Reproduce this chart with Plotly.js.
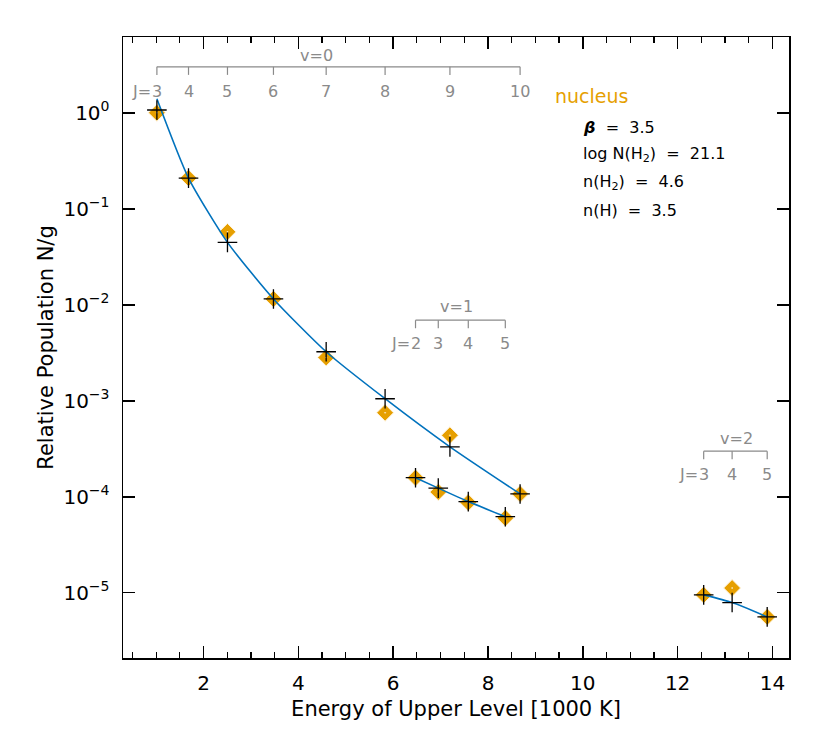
<!DOCTYPE html>
<html>
<head>
<meta charset="utf-8">
<script src="https://cdn.plot.ly/plotly-3.0.1.min.js"></script>
<style>
  body { margin: 0; background: #fff; }
  #plot { width: 830px; height: 738px; }
</style>
</head>
<body>
<div id="plot"></div>
<script>
// level energies [1000 K] and J numbers per vibrational band
var energyV0 = [1.015, 1.682, 2.504, 3.474, 4.586, 5.829, 7.197, 8.677];
var jV0 = [3, 4, 5, 6, 7, 8, 9, 10];
var energyV1 = [6.471, 6.951, 7.584, 8.365];
var jV1 = [2, 3, 4, 5];
var energyV2 = [12.55, 13.15, 13.89];
var jV2 = [3, 4, 5];

// observed populations (orange diamonds)
var obsV0 = [1.0, 0.209, 0.0575, 0.0115, 0.00282, 0.00075, 0.000437, 0.000107];
var obsV1 = [1.58e-4, 1.12e-4, 8.7e-5, 6.0e-5];
var obsV2 = [9.5e-6, 1.12e-5, 5.6e-6];

// model populations (black crosses)
var modelV0 = [1.07, 0.209, 0.0447, 0.0115, 0.00324, 0.00105, 0.000331, 0.000107];
var modelV1 = [1.58e-4, 1.23e-4, 8.9e-5, 6.2e-5];
var modelV2 = [9.5e-6, 7.9e-6, 5.6e-6];

// model curve for v=0 (starts a bit above the first cross)
var curveV0 = [1.4, 0.209, 0.0447, 0.0115, 0.00324, 0.00105, 0.000331, 0.000107];

var yTickVals = [1, 0.1, 0.01, 0.001, 0.0001, 0.00001];
var yTickText = ['10<sup>0</sup>', '10<sup>\u22121</sup>', '10<sup>\u22122</sup>',
                 '10<sup>\u22123</sup>', '10<sup>\u22124</sup>', '10<sup>\u22125</sup>'];

var orange = '#e69f00';
var blue = '#0072bd';
var grey = '#8a8a8a';
var font = 'DejaVu Sans, sans-serif';

function curve(x, y) {
  return { x: x, y: y, mode: 'lines', line: { color: blue, width: 1.6, shape: 'spline', smoothing: 0.6 },
           hoverinfo: 'skip', showlegend: false };
}
function diamonds(x, y) {
  return { x: x, y: y, mode: 'markers', showlegend: false,
           marker: { symbol: 'diamond-dot', size: 13, color: orange, line: { color: '#fff4dc', width: 1 } } };
}
function crosses(x, y) {
  return { x: x, y: y, mode: 'markers', showlegend: false,
           marker: { symbol: 'cross-thin-open', size: 14, color: '#000', line: { color: '#000', width: 1.3 } } };
}

var data = [
  diamonds(energyV0, obsV0), diamonds(energyV1, obsV1), diamonds(energyV2, obsV2),
  curve(energyV0, curveV0), curve(energyV1, modelV1), curve(energyV2, modelV2),
  crosses(energyV0, modelV0), crosses(energyV1, modelV1), crosses(energyV2, modelV2)
];

// J-level brackets above each band
var shapes = [];
var annotations = [];
function bracket(xs, js, vLabel, vx, yLine, yTick, yLab, yV) {
  shapes.push({ type: 'line', xref: 'x', yref: 'paper', x0: xs[0], x1: xs[xs.length - 1],
                y0: yLine, y1: yLine, line: { color: grey, width: 1.2 } });
  xs.forEach(function (x, i) {
    shapes.push({ type: 'line', xref: 'x', yref: 'paper', x0: x, x1: x, y0: yLine, y1: yTick,
                  line: { color: grey, width: 1.2 } });
    annotations.push({ xref: 'x', yref: 'paper', x: x, y: yLab, text: String(js[i]), showarrow: false,
                       xanchor: 'center', yanchor: 'middle', font: { family: font, size: 16, color: grey } });
  });
  annotations.push({ xref: 'x', yref: 'paper', x: xs[0], y: yLab, text: 'J=', showarrow: false,
                     xanchor: 'right', yanchor: 'middle', xshift: -4,
                     font: { family: font, size: 16, color: grey } });
  annotations.push({ xref: 'x', yref: 'paper', x: vx, y: yV, text: vLabel, showarrow: false,
                     xanchor: 'center', yanchor: 'middle', font: { family: font, size: 16, color: grey } });
}
bracket(energyV0, jV0, 'v=0', 4.39, 0.952, 0.939, 0.913, 0.971);
bracket(energyV1, jV1, 'v=1', 7.33, 0.544, 0.531, 0.507, 0.566);
bracket(energyV2, jV2, 'v=2', 13.25, 0.333, 0.320, 0.295, 0.354);

var textLines = ['<b><i>\u03b2</i></b>  =  3.5', 'log N(H<sub>2</sub>)  =  21.1', 'n(H<sub>2</sub>)  =  4.6', 'n(H)  =  3.5'];
var textY = [0.855, 0.810, 0.765, 0.720];
annotations.push({ xref: 'paper', yref: 'paper', x: 0.6456, y: 0.905, text: 'nucleus', showarrow: false,
                   xanchor: 'left', yanchor: 'middle', font: { family: font, size: 19, color: orange } });
textLines.forEach(function (t, i) {
  annotations.push({ xref: 'paper', yref: 'paper', x: 0.6877, y: textY[i], text: t.replace(/  /g, ' \u00a0'), showarrow: false,
                     xanchor: 'left', yanchor: 'middle', font: { family: font, size: 16, color: '#000' } });
});

var layout = {
  width: 830, height: 738,
  margin: { l: 123, r: 41, t: 37, b: 80 },
  paper_bgcolor: '#fff', plot_bgcolor: '#fff',
  font: { family: font, size: 20, color: '#000' },
  xaxis: {
    range: [0.3, 14.35], showgrid: false, zeroline: false,
    showline: true, linecolor: '#000', linewidth: 1.5, mirror: 'ticks',
    ticks: 'inside', ticklen: 12, tickwidth: 1.5, tickcolor: '#000',
    dtick: 2, tick0: 0, ticklabelstandoff: 6,
    minor: { dtick: 0.5, ticks: 'inside', ticklen: 6, tickwidth: 1.2, tickcolor: '#000', showgrid: false },
    title: { text: 'Energy of Upper Level [1000 K]', standoff: 8, font: { family: font, size: 21 } }
  },
  yaxis: {
    type: 'log', range: [-5.68, 0.79], showgrid: false, zeroline: false,
    showline: true, linecolor: '#000', linewidth: 1.5, mirror: 'ticks',
    ticks: 'inside', ticklen: 12, tickwidth: 1.5, tickcolor: '#000',
    tickvals: yTickVals, ticktext: yTickText, ticklabelstandoff: 8,
    title: { text: 'Relative Population N/g', standoff: 4, font: { family: font, size: 21 } }
  },
  shapes: shapes,
  annotations: annotations
};

Plotly.newPlot('plot', data, layout, { displayModeBar: false, staticPlot: true });
</script>
</body>
</html>
